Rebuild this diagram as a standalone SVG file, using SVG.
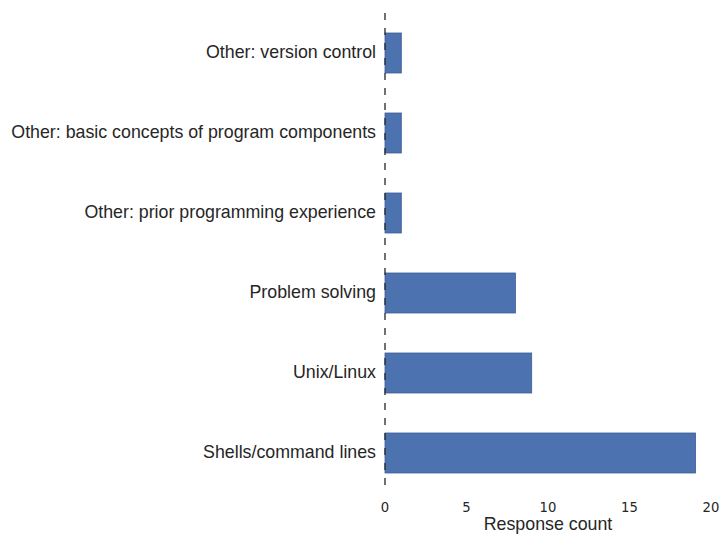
<svg xmlns="http://www.w3.org/2000/svg" width="721" height="535" viewBox="0 0 721 535">
<style>
.bar{fill:#4c72b0;stroke:#3d5d94;stroke-width:0.8}
.cat{font-family:"Liberation Sans",Arial,sans-serif;font-size:17.8px;fill:#262626;text-anchor:end}
.tick{font-family:"DejaVu Sans",sans-serif;font-size:13.2px;fill:#262626;text-anchor:middle}
.axlabel{font-family:"Liberation Sans",Arial,sans-serif;font-size:17.8px;fill:#262626;text-anchor:middle}
</style>
<rect width="721" height="535" fill="#ffffff"/>
<g id="bars">
<g id="version-control"><rect class="bar" x="385" y="33" width="16.3" height="40"/><text class="cat" x="376" y="58">Other: version control</text></g>
<g id="basic-concepts"><rect class="bar" x="385" y="113" width="16.3" height="40"/><text class="cat" x="376" y="138">Other: basic concepts of program components</text></g>
<g id="prior-programming"><rect class="bar" x="385" y="193" width="16.3" height="40"/><text class="cat" x="376" y="218">Other: prior programming experience</text></g>
<g id="problem-solving"><rect class="bar" x="385" y="273" width="130.4" height="40"/><text class="cat" x="376" y="298">Problem solving</text></g>
<g id="unix-linux"><rect class="bar" x="385" y="353" width="146.7" height="40"/><text class="cat" x="376" y="378">Unix/Linux</text></g>
<g id="shells"><rect class="bar" x="385" y="433" width="310.5" height="40"/><text class="cat" x="376" y="458">Shells/command lines</text></g>
</g>
<g id="connectors">
<line x1="385" y1="13" x2="385" y2="493" stroke="#262626" stroke-width="1.3" stroke-dasharray="7,8"/>
</g>
<g id="axis">
<text class="tick" x="385" y="512">0</text>
<text class="tick" x="466.5" y="512">5</text>
<text class="tick" x="548" y="512">10</text>
<text class="tick" x="629.5" y="512">15</text>
<text class="tick" x="711" y="512">20</text>
<text class="axlabel" x="548" y="530">Response count</text>
</g>
</svg>
